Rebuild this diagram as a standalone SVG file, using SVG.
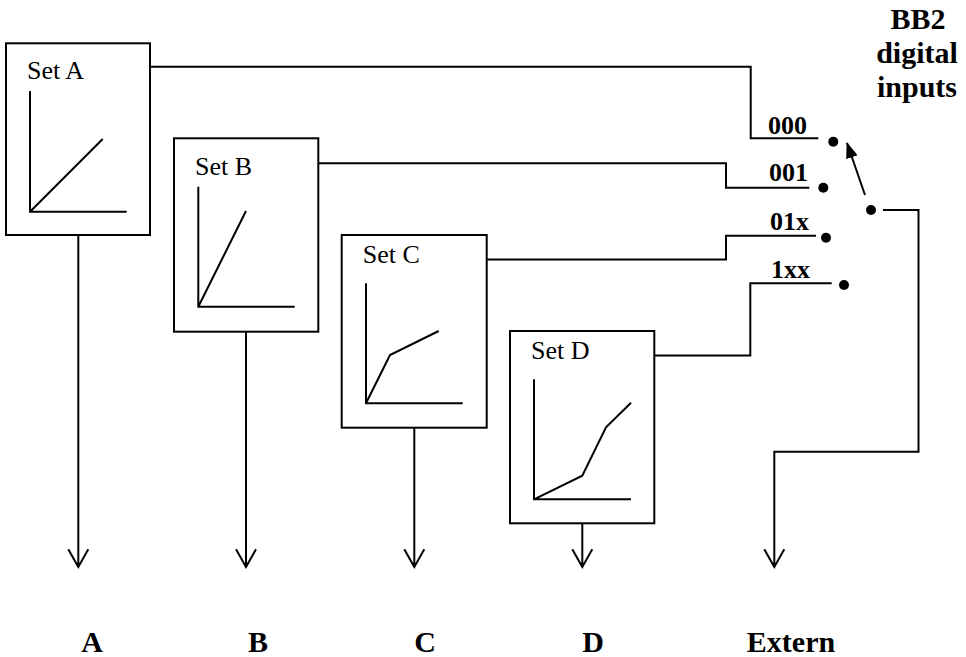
<svg xmlns="http://www.w3.org/2000/svg" width="966" height="657" viewBox="0 0 966 657">
<style>
.ln{fill:none;stroke:#000;stroke-width:2}
.box{fill:#fff;stroke:#000;stroke-width:2}
text{font-family:'Liberation Serif','Times New Roman','DejaVu Serif',serif;fill:#000}
.set{font-size:26px}
.code{font-size:26px;font-weight:bold}
.big{font-size:30px;font-weight:bold}
.dot{fill:#000}
</style>
<defs>
<marker id="fill" viewBox="0 0 16 12" refX="15" refY="6" markerWidth="16" markerHeight="12" markerUnits="userSpaceOnUse" orient="auto">
<path d="M0,0 L16,6 L0,12 Z" fill="#000"/>
</marker>
</defs>
<g id="connectors">
<path class="ln" d="M78.3,235 V567 M68.3,549.3 L78.3,567 L88.3,549.3"/>
<path class="ln" d="M246,331.7 V567 M236,549.3 L246,567 L256,549.3"/>
<path class="ln" d="M414.3,427.7 V567 M404.3,549.3 L414.3,567 L424.3,549.3"/>
<path class="ln" d="M582.3,523.3 V567 M572.3,549.3 L582.3,567 L592.3,549.3"/>
<path class="ln" d="M883,210 H918.5 V451.7 H774.3 V567 M764.3,549.3 L774.3,567 L784.3,549.3"/>
<path class="ln" d="M150,66.7 H750.7 V138.3 H818.3"/>
<path class="ln" d="M318.3,163.3 H726 V187.7 H809.3"/>
<path class="ln" d="M486.7,259.5 H726 V235.7 H816"/>
<path class="ln" d="M654.3,355.5 H750.3 V283.3 H831.7"/>
<path class="ln" d="M865,195 L847,143" marker-end="url(#fill)"/>
</g>
<g id="switch">
<circle class="dot" cx="833.3" cy="141.7" r="5"/>
<circle class="dot" cx="823.3" cy="187.7" r="5"/>
<circle class="dot" cx="826" cy="237.7" r="5"/>
<circle class="dot" cx="844" cy="285" r="5"/>
<circle class="dot" cx="871" cy="210" r="5"/>
<text class="code" x="768" y="134" font-family="Liberation Serif">000</text>
<text class="code" x="769" y="181" font-family="Liberation Serif">001</text>
<text class="code" x="770" y="230" font-family="Liberation Serif">01x</text>
<text class="code" x="771" y="278" font-family="Liberation Serif">1xx</text>
</g>
<g id="setA">
<rect class="box" x="6" y="43.3" width="144" height="191.7"/>
<text class="set" x="27" y="79" font-family="Liberation Serif">Set A</text>
<path class="ln" d="M30,91 V211.7 H126.7 M30,211.7 L102.7,139"/>
</g>
<g id="setB">
<rect class="box" x="174" y="138.3" width="144.3" height="193.4"/>
<text class="set" x="195" y="175" font-family="Liberation Serif">Set B</text>
<path class="ln" d="M198.3,186.7 V306.7 H294.7 M198.3,306.7 L246,211"/>
</g>
<g id="setC">
<rect class="box" x="341.7" y="235" width="145" height="192.7"/>
<text class="set" x="362.7" y="263.3" font-family="Liberation Serif">Set C</text>
<path class="ln" d="M366,283.3 V403.3 H462.7 M366,403.3 L390,355 L438.7,331"/>
</g>
<g id="setD">
<rect class="box" x="510" y="331" width="144.3" height="192.3"/>
<text class="set" x="531" y="359.3" font-family="Liberation Serif">Set D</text>
<path class="ln" d="M534,379.3 V499.3 H631 M534,499.3 L582.3,475.7 L606,427.3 L631,402.7"/>
</g>
<g id="title">
<text class="big" x="918" y="29" text-anchor="middle" font-family="Liberation Serif">BB2</text>
<text class="big" x="917" y="63" text-anchor="middle" font-family="Liberation Serif">digital</text>
<text class="big" x="917" y="97" text-anchor="middle" font-family="Liberation Serif">inputs</text>
</g>
<g id="outputs">
<text class="big" x="92" y="652" text-anchor="middle" font-family="Liberation Serif">A</text>
<text class="big" x="258" y="652" text-anchor="middle" font-family="Liberation Serif">B</text>
<text class="big" x="425" y="652" text-anchor="middle" font-family="Liberation Serif">C</text>
<text class="big" x="593" y="652" text-anchor="middle" font-family="Liberation Serif">D</text>
<text class="big" x="791" y="652" text-anchor="middle" font-family="Liberation Serif">Extern</text>
</g>
</svg>
